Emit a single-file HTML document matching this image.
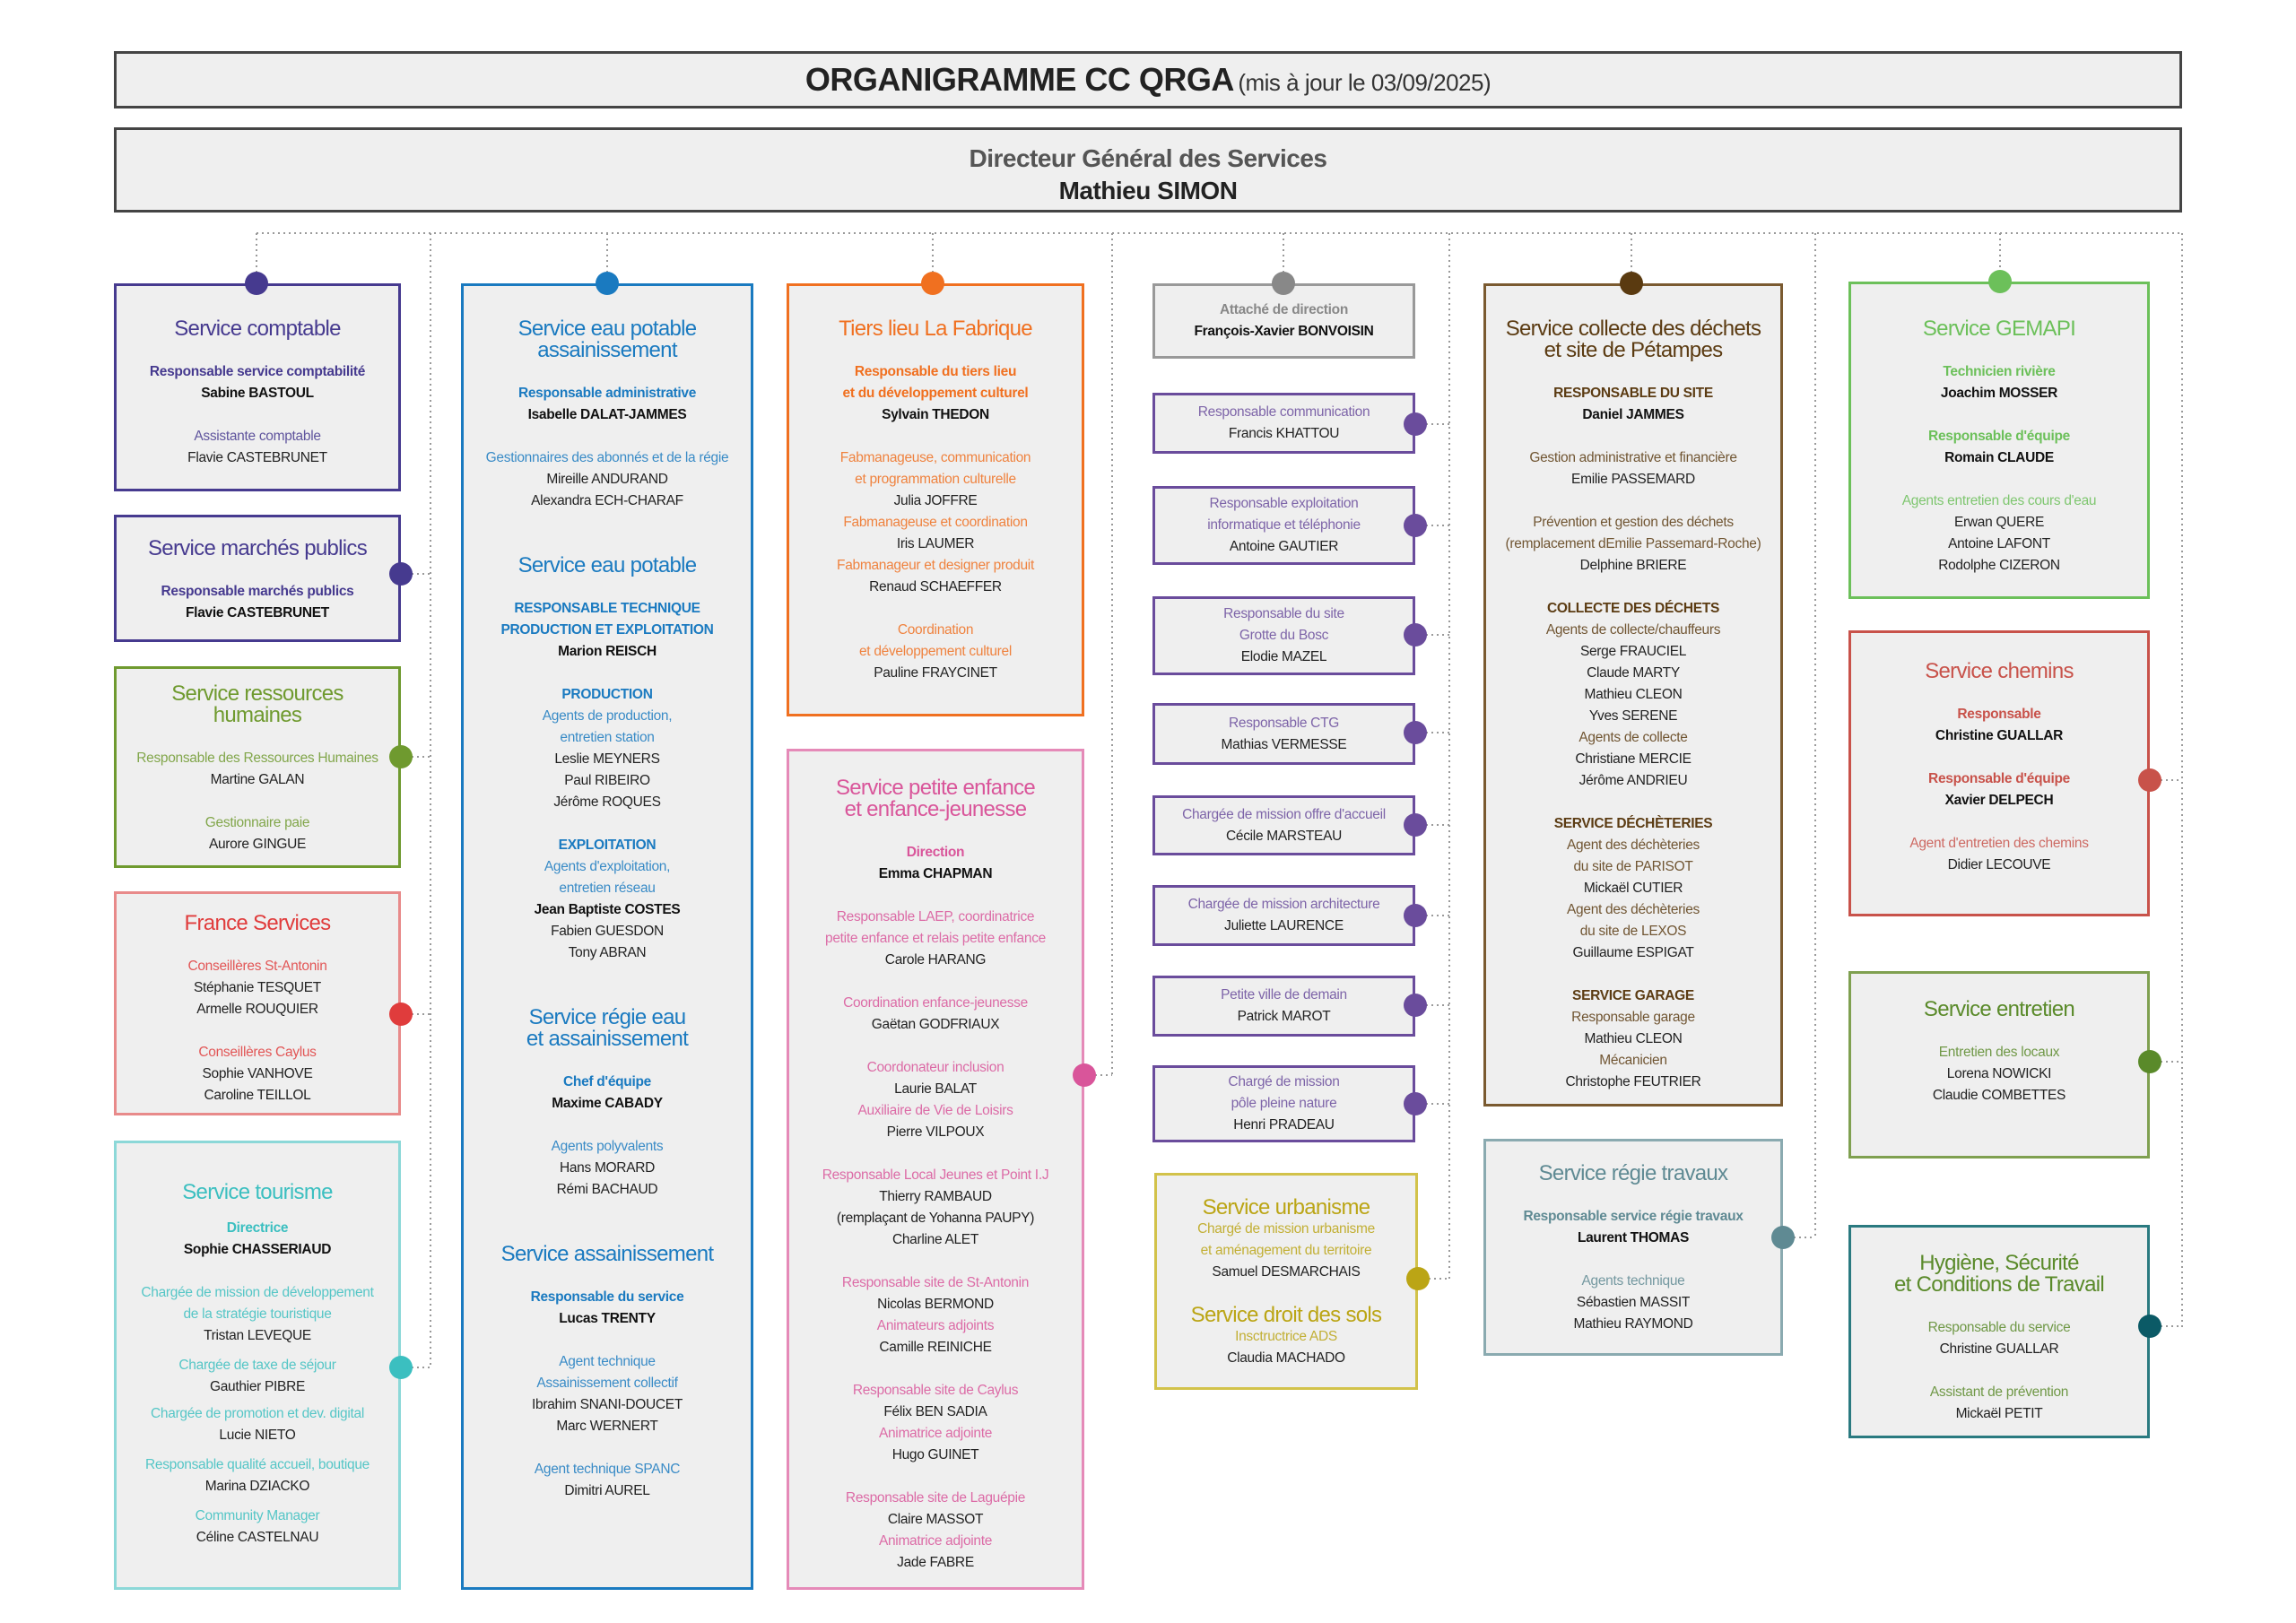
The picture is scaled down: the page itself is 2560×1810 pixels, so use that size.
<!DOCTYPE html>
<html><head><meta charset="utf-8"><style>
*{margin:0;padding:0}
body{width:2560px;height:1810px;background:#fff;position:relative;overflow:hidden;font-family:"Liberation Sans",sans-serif}
.hd{position:absolute;background:#efefef;border:3px solid #444;box-sizing:border-box;text-align:center}
.box{position:absolute;background:#efefef;border:3px solid var(--c);box-sizing:border-box;text-align:center;color:var(--c)}
.box div{height:24px;line-height:24px;white-space:nowrap;font-size:15.5px;letter-spacing:-0.3px}
.box .t{font-size:24px;letter-spacing:-0.7px}
.box .r{color:var(--c);opacity:.85}
.box .rb{color:var(--c);font-weight:bold}
.box .n{color:#222}
.box .b{color:#111;font-weight:bold}
.box .s{height:24px}
.sm{display:flex;flex-direction:column;justify-content:center}
.dot{position:absolute;width:26px;height:26px;border-radius:50%;margin:-13px 0 0 -13px}
svg{position:absolute;left:0;top:0}
</style></head><body>
<svg width="2560" height="1810"><g stroke="#9a9a9a" stroke-width="2" stroke-dasharray="2 4" fill="none">
<path d="M286 260H2433"/>
<path d="M286 260V303M677 260V303M1040 260V303M1431 260V303M1819 260V303M2230 260V303"/>
<path d="M480 260V1525M447 640H480M447 844H480M447 1131H480M447 1525H480"/>
<path d="M1240 260V1199M1209 1199H1240"/>
<path d="M1616 260V1426M1578 473H1616M1578 586H1616M1578 708H1616M1578 817H1616M1578 920H1616M1578 1021H1616M1578 1121H1616M1578 1231H1616M1581 1426H1616"/>
<path d="M2024 260V1380M1988 1380H2024"/>
<path d="M2433 260V1480M2397 870H2433M2397 1184H2433M2397 1479H2433"/>
</g></svg>

<div class="hd" style="left:127px;top:57px;width:2306px;height:64px;line-height:58px;color:#222"><b style="font-size:36px;letter-spacing:-0.5px">ORGANIGRAMME CC QRGA</b> <span style="font-size:26px;letter-spacing:-0.5px;color:#333">(mis à jour le 03/09/2025)</span></div>
<div class="hd" style="left:127px;top:142px;width:2306px;height:95px;padding-top:14px"><div style="font-size:28px;font-weight:bold;color:#555;line-height:36px;letter-spacing:-0.5px">Directeur Général des Services</div><div style="font-size:28px;font-weight:bold;color:#222;line-height:36px;letter-spacing:-0.5px">Mathieu SIMON</div></div>

<!-- Col 1 -->
<div class="box" style="--c:#463a8f;left:127px;top:316px;width:320px;height:232px;padding-top:36px">
<div class="t">Service comptable</div><div class="s"></div><div class="rb">Responsable service comptabilité</div><div class="b">Sabine BASTOUL</div><div class="s"></div><div class="r">Assistante comptable</div><div class="n">Flavie CASTEBRUNET</div></div>
<div class="box" style="--c:#463a8f;left:127px;top:574px;width:320px;height:142px;padding-top:23px">
<div class="t">Service marchés publics</div><div class="s"></div><div class="rb">Responsable marchés publics</div><div class="b">Flavie CASTEBRUNET</div></div>
<div class="box" style="--c:#6f9a2f;left:127px;top:743px;width:320px;height:225px;padding-top:16px">
<div class="t">Service ressources</div><div class="t">humaines</div><div class="s"></div><div class="r">Responsable des Ressources Humaines</div><div class="n">Martine GALAN</div><div class="s"></div><div class="r">Gestionnaire paie</div><div class="n">Aurore GINGUE</div></div>
<div class="box" style="--c:#e03c3c;left:127px;top:994px;width:320px;height:250px;padding-top:21px;border-color:#e88a8a">
<div class="t">France Services</div><div class="s"></div><div class="r">Conseillères St-Antonin</div><div class="n">Stéphanie TESQUET</div><div class="n">Armelle ROUQUIER</div><div class="s"></div><div class="r">Conseillères Caylus</div><div class="n">Sophie VANHOVE</div><div class="n">Caroline TEILLOL</div></div>
<div class="box" style="--c:#3bbfc0;left:127px;top:1272px;width:320px;height:501px;padding-top:43px;border-color:#8cd8d8">
<div class="t">Service tourisme</div><div class="rb" style="margin-top:16px">Directrice</div><div class="b">Sophie CHASSERIAUD</div><div class="s"></div><div class="r">Chargée de mission de développement</div><div class="r">de la stratégie touristique</div><div class="n">Tristan LEVEQUE</div><div class="r" style="margin-top:9px">Chargée de taxe de séjour</div><div class="n">Gauthier PIBRE</div><div class="r" style="margin-top:6px">Chargée de promotion et dev. digital</div><div class="n">Lucie NIETO</div><div class="r" style="margin-top:9px">Responsable qualité accueil, boutique</div><div class="n">Marina DZIACKO</div><div class="r" style="margin-top:9px">Community Manager</div><div class="n">Céline CASTELNAU</div></div>

<!-- Col 2 -->
<div class="box" style="--c:#1a7ac0;left:514px;top:316px;width:326px;height:1457px;padding-top:36px">
<div class="t">Service eau potable</div><div class="t">assainissement</div><div class="s"></div><div class="rb">Responsable administrative</div><div class="b">Isabelle DALAT-JAMMES</div><div class="s"></div><div class="r">Gestionnaires des abonnés et de la régie</div><div class="n">Mireille ANDURAND</div><div class="n">Alexandra ECH-CHARAF</div><div class="s"></div><div class="s"></div>
<div class="t">Service eau potable</div><div class="s"></div><div class="rb">RESPONSABLE TECHNIQUE</div><div class="rb">PRODUCTION ET EXPLOITATION</div><div class="b">Marion REISCH</div><div class="s"></div><div class="rb">PRODUCTION</div><div class="r">Agents de production,</div><div class="r">entretien station</div><div class="n">Leslie MEYNERS</div><div class="n">Paul RIBEIRO</div><div class="n">Jérôme ROQUES</div><div class="s"></div><div class="rb">EXPLOITATION</div><div class="r">Agents d'exploitation,</div><div class="r">entretien réseau</div><div class="b">Jean Baptiste COSTES</div><div class="n">Fabien GUESDON</div><div class="n">Tony ABRAN</div><div class="s"></div><div class="s"></div>
<div class="t">Service régie eau</div><div class="t">et assainissement</div><div class="s"></div><div class="rb">Chef d'équipe</div><div class="b">Maxime CABADY</div><div class="s"></div><div class="r">Agents polyvalents</div><div class="n">Hans MORARD</div><div class="n">Rémi BACHAUD</div><div class="s"></div><div class="s"></div>
<div class="t">Service assainissement</div><div class="s"></div><div class="rb">Responsable du service</div><div class="b">Lucas TRENTY</div><div class="s"></div><div class="r">Agent technique</div><div class="r">Assainissement collectif</div><div class="n">Ibrahim SNANI-DOUCET</div><div class="n">Marc WERNERT</div><div class="s"></div><div class="r">Agent technique SPANC</div><div class="n">Dimitri AUREL</div></div>

<!-- Col 3 -->
<div class="box" style="--c:#f07020;left:877px;top:316px;width:332px;height:483px;padding-top:36px">
<div class="t">Tiers lieu La Fabrique</div><div class="s"></div><div class="rb">Responsable du tiers lieu</div><div class="rb">et du développement culturel</div><div class="b">Sylvain THEDON</div><div class="s"></div><div class="r">Fabmanageuse, communication</div><div class="r">et programmation culturelle</div><div class="n">Julia JOFFRE</div><div class="r">Fabmanageuse et coordination</div><div class="n">Iris LAUMER</div><div class="r">Fabmanageur et designer produit</div><div class="n">Renaud SCHAEFFER</div><div class="s"></div><div class="r">Coordination</div><div class="r">et développement culturel</div><div class="n">Pauline FRAYCINET</div></div>
<div class="box" style="--c:#d9559a;left:877px;top:835px;width:332px;height:938px;padding-top:29px;border-color:#e58ab8">
<div class="t">Service petite enfance</div><div class="t">et enfance-jeunesse</div><div class="s"></div><div class="rb">Direction</div><div class="b">Emma CHAPMAN</div><div class="s"></div><div class="r">Responsable LAEP, coordinatrice</div><div class="r">petite enfance et relais petite enfance</div><div class="n">Carole HARANG</div><div class="s"></div><div class="r">Coordination enfance-jeunesse</div><div class="n">Gaëtan GODFRIAUX</div><div class="s"></div><div class="r">Coordonateur inclusion</div><div class="n">Laurie BALAT</div><div class="r">Auxiliaire de Vie de Loisirs</div><div class="n">Pierre VILPOUX</div><div class="s"></div><div class="r">Responsable Local Jeunes et Point I.J</div><div class="n">Thierry RAMBAUD</div><div class="n">(remplaçant de Yohanna PAUPY)</div><div class="n">Charline ALET</div><div class="s"></div><div class="r">Responsable site de St-Antonin</div><div class="n">Nicolas BERMOND</div><div class="r">Animateurs adjoints</div><div class="n">Camille REINICHE</div><div class="s"></div><div class="r">Responsable site de Caylus</div><div class="n">Félix BEN SADIA</div><div class="r">Animatrice adjointe</div><div class="n">Hugo GUINET</div><div class="s"></div><div class="r">Responsable site de Laguépie</div><div class="n">Claire MASSOT</div><div class="r">Animatrice adjointe</div><div class="n">Jade FABRE</div></div>

<!-- Col 4 -->
<div class="box sm" style="--c:#888;left:1285px;top:316px;width:293px;height:84px;border-color:#999"><div class="rb">Attaché de direction</div><div class="b">François-Xavier BONVOISIN</div></div>
<div class="box sm" style="--c:#6a4c9c;left:1285px;top:438px;width:293px;height:68px"><div class="r">Responsable communication</div><div class="n">Francis KHATTOU</div></div>
<div class="box sm" style="--c:#6a4c9c;left:1285px;top:542px;width:293px;height:88px"><div class="r">Responsable exploitation</div><div class="r">informatique et téléphonie</div><div class="n">Antoine GAUTIER</div></div>
<div class="box sm" style="--c:#6a4c9c;left:1285px;top:665px;width:293px;height:88px"><div class="r">Responsable du site</div><div class="r">Grotte du Bosc</div><div class="n">Elodie MAZEL</div></div>
<div class="box sm" style="--c:#6a4c9c;left:1285px;top:784px;width:293px;height:69px"><div class="r">Responsable CTG</div><div class="n">Mathias VERMESSE</div></div>
<div class="box sm" style="--c:#6a4c9c;left:1285px;top:887px;width:293px;height:67px"><div class="r">Chargée de mission offre d'accueil</div><div class="n">Cécile MARSTEAU</div></div>
<div class="box sm" style="--c:#6a4c9c;left:1285px;top:987px;width:293px;height:68px"><div class="r">Chargée de mission architecture</div><div class="n">Juliette LAURENCE</div></div>
<div class="box sm" style="--c:#6a4c9c;left:1285px;top:1088px;width:293px;height:68px"><div class="r">Petite ville de demain</div><div class="n">Patrick MAROT</div></div>
<div class="box sm" style="--c:#6a4c9c;left:1285px;top:1188px;width:293px;height:86px"><div class="r">Chargé de mission</div><div class="r">pôle pleine nature</div><div class="n">Henri PRADEAU</div></div>
<div class="box" style="--c:#bba515;left:1287px;top:1308px;width:294px;height:242px;padding-top:24px;border-color:#d2c24a">
<div class="t">Service urbanisme</div><div class="r">Chargé de mission urbanisme</div><div class="r">et aménagement du territoire</div><div class="n">Samuel DESMARCHAIS</div><div class="s"></div><div class="t">Service droit des sols</div><div class="r">Insctructrice ADS</div><div class="n">Claudia MACHADO</div></div>

<!-- Col 5 -->
<div class="box" style="--c:#5b3b12;left:1654px;top:316px;width:334px;height:918px;padding-top:36px;border-color:#7a5a30">
<div class="t">Service collecte des déchets</div><div class="t">et site de Pétampes</div><div class="s"></div><div class="rb">RESPONSABLE DU SITE</div><div class="b">Daniel JAMMES</div><div class="s"></div><div class="r">Gestion administrative et financière</div><div class="n">Emilie PASSEMARD</div><div class="s"></div><div class="r">Prévention et gestion des déchets</div><div class="r">(remplacement dEmilie Passemard-Roche)</div><div class="n">Delphine BRIERE</div><div class="s"></div><div class="rb">COLLECTE DES DÉCHETS</div><div class="r">Agents de collecte/chauffeurs</div><div class="n">Serge FRAUCIEL</div><div class="n">Claude MARTY</div><div class="n">Mathieu CLEON</div><div class="n">Yves SERENE</div><div class="r">Agents de collecte</div><div class="n">Christiane MERCIE</div><div class="n">Jérôme ANDRIEU</div><div class="s"></div><div class="rb">SERVICE DÉCHÈTERIES</div><div class="r">Agent des déchèteries</div><div class="r">du site de PARISOT</div><div class="n">Mickaël CUTIER</div><div class="r">Agent des déchèteries</div><div class="r">du site de LEXOS</div><div class="n">Guillaume ESPIGAT</div><div class="s"></div><div class="rb">SERVICE GARAGE</div><div class="r">Responsable garage</div><div class="n">Mathieu CLEON</div><div class="r">Mécanicien</div><div class="n">Christophe FEUTRIER</div></div>
<div class="box" style="--c:#5f8a93;left:1654px;top:1270px;width:334px;height:242px;padding-top:24px;border-color:#8aaab0">
<div class="t">Service régie travaux</div><div class="s"></div><div class="rb">Responsable service régie travaux</div><div class="b">Laurent THOMAS</div><div class="s"></div><div class="r">Agents technique</div><div class="n">Sébastien MASSIT</div><div class="n">Mathieu RAYMOND</div></div>

<!-- Col 6 -->
<div class="box" style="--c:#6cc05a;left:2061px;top:314px;width:336px;height:354px;padding-top:38px">
<div class="t">Service GEMAPI</div><div class="s"></div><div class="rb">Technicien rivière</div><div class="b">Joachim MOSSER</div><div class="s"></div><div class="rb">Responsable d'équipe</div><div class="b">Romain CLAUDE</div><div class="s"></div><div class="r">Agents entretien des cours d'eau</div><div class="n">Erwan QUERE</div><div class="n">Antoine LAFONT</div><div class="n">Rodolphe CIZERON</div></div>
<div class="box" style="--c:#c8524a;left:2061px;top:703px;width:336px;height:319px;padding-top:31px">
<div class="t">Service chemins</div><div class="s"></div><div class="rb">Responsable</div><div class="b">Christine GUALLAR</div><div class="s"></div><div class="rb">Responsable d'équipe</div><div class="b">Xavier DELPECH</div><div class="s"></div><div class="r">Agent d'entretien des chemins</div><div class="n">Didier LECOUVE</div></div>
<div class="box" style="--c:#5a8a2a;left:2061px;top:1083px;width:336px;height:209px;padding-top:28px;border-color:#7fa050">
<div class="t">Service entretien</div><div class="s"></div><div class="r">Entretien des locaux</div><div class="n">Lorena NOWICKI</div><div class="n">Claudie COMBETTES</div></div>
<div class="box" style="--c:#5a8a2a;left:2061px;top:1366px;width:336px;height:238px;padding-top:28px;border-color:#2a7a80">
<div class="t">Hygiène, Sécurité</div><div class="t">et Conditions de Travail</div><div class="s"></div><div class="r">Responsable du service</div><div class="n">Christine GUALLAR</div><div class="s"></div><div class="r">Assistant de prévention</div><div class="n">Mickaël PETIT</div></div>

<!-- dots -->
<div class="dot" style="left:286px;top:316px;background:#463a8f"></div>
<div class="dot" style="left:677px;top:316px;background:#1a7ac0"></div>
<div class="dot" style="left:1040px;top:316px;background:#f07020"></div>
<div class="dot" style="left:1431px;top:316px;background:#888"></div>
<div class="dot" style="left:1819px;top:316px;background:#5a3a10"></div>
<div class="dot" style="left:2230px;top:314px;background:#6cc05a"></div>
<div class="dot" style="left:447px;top:640px;background:#463a8f"></div>
<div class="dot" style="left:447px;top:844px;background:#6f9a2f"></div>
<div class="dot" style="left:447px;top:1131px;background:#e03c3c"></div>
<div class="dot" style="left:447px;top:1525px;background:#3bbfc0"></div>
<div class="dot" style="left:1209px;top:1199px;background:#d9559a"></div>
<div class="dot" style="left:1578px;top:473px;background:#6a4c9c"></div>
<div class="dot" style="left:1578px;top:586px;background:#6a4c9c"></div>
<div class="dot" style="left:1578px;top:708px;background:#6a4c9c"></div>
<div class="dot" style="left:1578px;top:817px;background:#6a4c9c"></div>
<div class="dot" style="left:1578px;top:920px;background:#6a4c9c"></div>
<div class="dot" style="left:1578px;top:1021px;background:#6a4c9c"></div>
<div class="dot" style="left:1578px;top:1121px;background:#6a4c9c"></div>
<div class="dot" style="left:1578px;top:1231px;background:#6a4c9c"></div>
<div class="dot" style="left:1581px;top:1426px;background:#bba515"></div>
<div class="dot" style="left:1988px;top:1380px;background:#5f8a93"></div>
<div class="dot" style="left:2397px;top:870px;background:#c8524a"></div>
<div class="dot" style="left:2397px;top:1184px;background:#5a8a2a"></div>
<div class="dot" style="left:2397px;top:1479px;background:#0b5a66"></div>
</body></html>
